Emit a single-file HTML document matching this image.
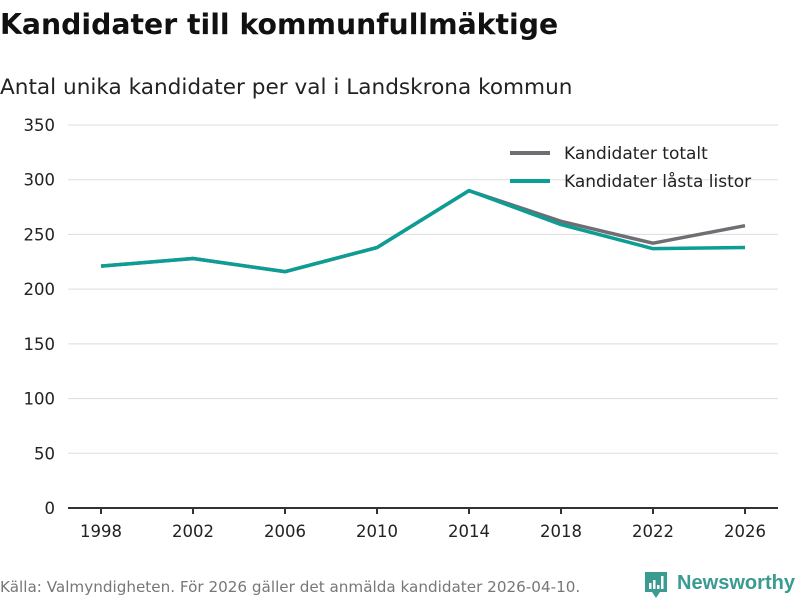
<!DOCTYPE html>
<html><head><meta charset="utf-8"><style>
body{margin:0;background:#fff;font-family:"DejaVu Sans","Liberation Sans",sans-serif;}
svg text{font-family:"DejaVu Sans","Liberation Sans",sans-serif;}
</style></head><body>
<svg id="c" width="800" height="600" xmlns="http://www.w3.org/2000/svg">
<text x="0" y="34" font-size="28.3" font-weight="bold" fill="#111">Kandidater till kommunfullmäktige</text>
<text x="0" y="94" font-size="21.6" fill="#222">Antal unika kandidater per val i Landskrona kommun</text>
<g id="grid"></g><g id="xa"></g><g id="lines"></g>
<g>
<line x1="510" y1="153" x2="550" y2="153" stroke="#6e6e73" stroke-width="4"/>
<text x="564" y="159" font-size="17" fill="#222">Kandidater totalt</text>
<line x1="510" y1="181" x2="550" y2="181" stroke="#0c9d94" stroke-width="4"/>
<text x="564" y="187" font-size="17" fill="#222">Kandidater låsta listor</text>
</g>
<text x="0" y="592" font-size="15.2" fill="#777">Källa: Valmyndigheten. För 2026 gäller det anmälda kandidater 2026-04-10.</text>
<g>
<path d="M645 572 h22 v20 h-7 l-4 6 l-4 -6 h-7 z" fill="#3a9b91"/>
<rect x="649" y="583" width="2.5" height="6" fill="#fff"/><rect x="653" y="580" width="2.5" height="9" fill="#fff"/><rect x="657" y="585" width="2.5" height="4" fill="#fff"/><rect x="661" y="576" width="2.5" height="13" fill="#fff"/>
<text x="677" y="589" font-size="20" font-weight="bold" fill="#3a9b91" style="font-family:'Liberation Sans',sans-serif" textLength="118" lengthAdjust="spacingAndGlyphs">Newsworthy</text>
</g>
</svg>
<script>
const years=[1998,2002,2006,2010,2014,2018,2022,2026];
const totalt=[221,228,216,238,290,262,242,258];
const lasta=[221,228,216,238,290,259,237,238];
const yTicks=[0,50,100,150,200,250,300,350];
const NS="http://www.w3.org/2000/svg";
const x=v=>101+(v-1998)/4*92;
const y=v=>508-v*383/350;
function mk(t,a,p){const e=document.createElementNS(NS,t);for(const k in a)e.setAttribute(k,a[k]);p.appendChild(e);return e;}
const g=document.getElementById('grid');
yTicks.forEach(t=>{
 if(t>0){const l=mk('line',{x1:68,x2:778,y1:y(t),y2:y(t),stroke:'#ddd','stroke-width':1},g);
 
 }
 const tx=mk('text',{x:55,y:y(t)+6,'font-size':16.5,fill:'#222','text-anchor':'end'},g);tx.textContent=t;
 
 
});
const xa=document.getElementById('xa');
const ax=mk('line',{x1:68,x2:778,y1:508,y2:508,stroke:'#333','stroke-width':2},xa);


years.forEach(v=>{
 mk('line',{x1:x(v),x2:x(v),y1:508,y2:514,stroke:'#333','stroke-width':2},xa);
 const tx=mk('text',{x:x(v),y:537,'font-size':16.5,fill:'#222','text-anchor':'middle'},xa);tx.textContent=v;
 
 
});
const L=document.getElementById('lines');
function line(arr,col,name){const p=mk('polyline',{points:arr.map((v,i)=>x(years[i])+','+y(v)).join(' '),fill:'none',stroke:col,'stroke-width':3.5,'stroke-linejoin':'round'},L);
 
 }
line(totalt,'#6e6e73','line-totalt');
line(lasta,'#0c9d94','line-lasta-listor');
</script>
</body></html>
